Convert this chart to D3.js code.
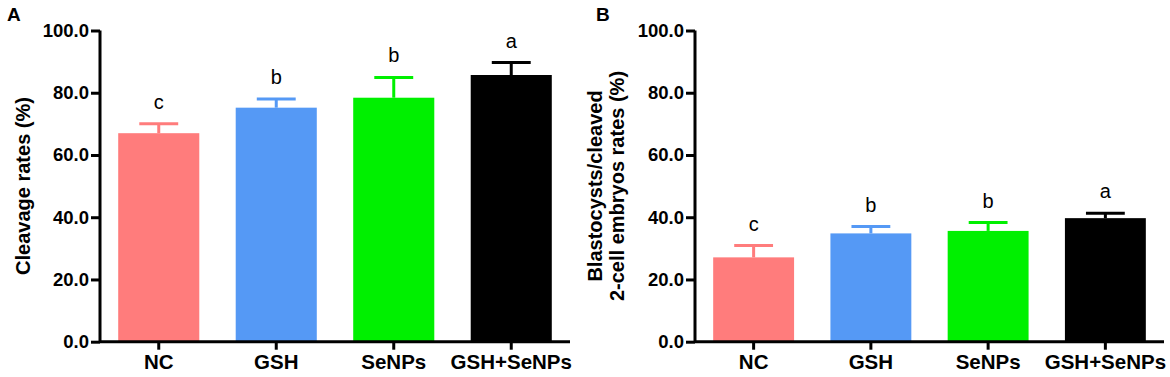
<!DOCTYPE html>
<html><head><meta charset="utf-8">
<script src="https://cdn.jsdelivr.net/npm/d3@7"></script>
<style>body{margin:0;background:#fff}svg{display:block}text{font-family:"Liberation Sans",Arial,sans-serif}</style>
</head><body><svg id="c" width="1170" height="377"></svg>
<script>
const categories = ["NC","GSH","SeNPs","GSH+SeNPs"];
const colors = ["#FF7C7C","#5599F5","#00F000","#000000"];
const cleavageMean = [67.0, 75.2, 78.4, 85.7];
const cleavageErr  = [3.0, 2.8, 6.5, 4.0];
const cleavageSig  = ["c","b","b","a"];
const blastMean = [27.1, 34.8, 35.6, 39.7];
const blastErr  = [3.8, 2.2, 2.7, 1.6];
const blastSig  = ["c","b","b","a"];
const yTicks = [0,20,40,60,80,100];

const svg = d3.select("#c");
const FONT = '"Liberation Sans",Arial,sans-serif';

function panel(opt){
  const g = svg.append("g");
  const y = d3.scaleLinear().domain([0,100]).range([341.7,30.5]);
  const x = d3.scaleBand().domain(categories).range([opt.x0,opt.x1]).paddingInner(0.31).paddingOuter(0.155);
  g.selectAll("rect.bar").data(categories).join("rect")
    .attr("x", d=>x(d)).attr("width", x.bandwidth())
    .attr("y", (d,i)=>y(opt.mean[i])).attr("height",(d,i)=>y(0)-y(opt.mean[i]))
    .attr("fill",(d,i)=>colors[i]);
  const cap = x.bandwidth()*0.48;
  categories.forEach((d,i)=>{
    const cx = x(d)+x.bandwidth()/2;
    const top = y(opt.mean[i]+opt.err[i]);
    g.append("line").attr("x1",cx).attr("x2",cx).attr("y1",y(opt.mean[i])).attr("y2",top)
      .attr("stroke",colors[i]).attr("stroke-width",3);
    g.append("line").attr("x1",cx-cap/2).attr("x2",cx+cap/2).attr("y1",top).attr("y2",top)
      .attr("stroke",colors[i]).attr("stroke-width",3);
    g.append("text").attr("x",cx).attr("y",top-15)
      .attr("text-anchor","middle").attr("font-size",20).attr("fill","#000").text(opt.sig[i]);
  });
  const ya = g.append("g").attr("transform",`translate(${opt.x0},0)`)
    .call(d3.axisLeft(y).tickValues(yTicks).tickFormat(d3.format(".1f")).tickSize(9).tickPadding(2));
  const xa = g.append("g").attr("transform",`translate(0,${y(0)})`)
    .call(d3.axisBottom(x).tickSize(8).tickPadding(5));
  [ya,xa].forEach(a=>{
    a.select(".domain").attr("stroke","#000").attr("stroke-width",3);
    a.selectAll(".tick line").attr("stroke","#000").attr("stroke-width",3);
    a.selectAll(".tick text").attr("font-weight","bold").attr("fill","#000").attr("font-family",FONT);
  });
  ya.selectAll(".tick text").attr("font-size",18.5);
  xa.selectAll(".tick text").attr("font-size",20.5);
  ya.select(".domain").attr("d",`M0,${y(100)}V${y(0)}`);
  xa.select(".domain").attr("d",`M${opt.x0},0H${opt.x1}`);
  const t = g.append("text").attr("transform",`translate(${opt.tx},186) rotate(-90)`)
    .attr("text-anchor","middle").attr("font-size",20).attr("font-weight","bold");
  opt.title.forEach((line,k)=>{
    t.append("tspan").attr("x",0).attr("dy", k===0 ? (opt.title.length>1? -0.1 : 0.35)+"em" : "1.12em").text(line);
  });
  g.append("text").attr("x",opt.lx).attr("y",21).attr("font-size",19).attr("font-weight","bold").text(opt.label);
}

panel({x0:100,x1:570,mean:cleavageMean,err:cleavageErr,sig:cleavageSig,title:["Cleavage rates (%)"],tx:23,lx:7,label:"A"});
panel({x0:695,x1:1164,mean:blastMean,err:blastErr,sig:blastSig,title:["Blastocysts/cleaved","2-cell embryos rates (%)"],tx:604,lx:596,label:"B"});
</script></body></html>
